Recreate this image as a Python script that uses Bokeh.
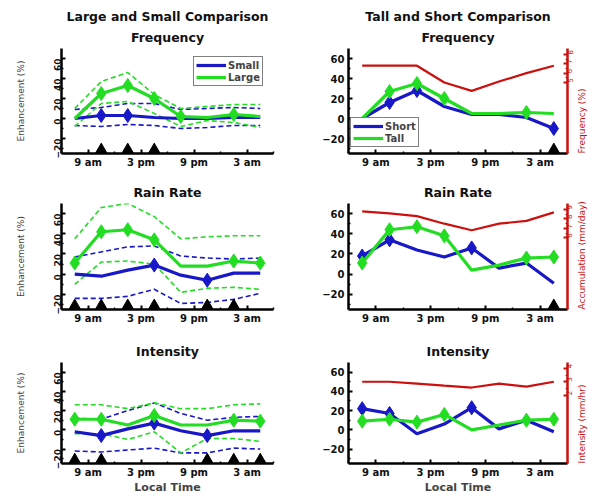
import math
from bokeh.plotting import figure
from bokeh.models import Range1d, LinearAxis, FixedTicker, Legend, LegendItem, Title
from bokeh.layouts import column, row
from bokeh.embed import file_html
from bokeh.resources import INLINE

# ---------------- data ----------------
hours = [7.5, 10.5, 13.5, 16.5, 19.5, 22.5, 25.5, 28.5]
tick_hours = [9, 15, 21, 27]
tick_labels = ["9 am", "3 pm", "9 pm", "3 am"]
y_ticks = [-20, 0, 20, 40, 60]

# Left column: Small vs Large
freq_small = [0, 3, 3, 1, 0, 0, 1, 1]
freq_small_hi = [9, 11, 15, 15, 9, 10, 11, 10]
freq_small_lo = [-7, -8, -6, -7, -10, -9, -7, -7]
freq_small_sig = [0, 1, 1, 0, 0, 0, 0, 0]
freq_large = [0, 25, 33, 20, 2, 1, 4, 2]
freq_large_hi = [10, 37, 46, 24, 10, 12, 14, 14]
freq_large_lo = [-8, 15, 17, 5, -8, -2, -4, -9]
freq_large_sig = [0, 1, 1, 1, 1, 0, 1, 0]
freq_left_tri = [0, 1, 1, 1, 0, 0, 0, 0]

rain_small = [0, -2, 4, 9, -1, -6, 1, 1]
rain_small_hi = [17, 22, 27, 28, 18, 16, 15, 16]
rain_small_lo = [-24, -24, -22, -15, -29, -28, -25, -19]
rain_small_sig = [0, 0, 0, 1, 0, 1, 0, 0]
rain_large = [11, 42, 44, 34, 8, 8, 13, 11]
rain_large_hi = [35, 66, 70, 57, 35, 37, 38, 38]
rain_large_lo = [-10, 12, 13, 10, -18, -14, -13, -15]
rain_large_sig = [1, 1, 1, 1, 0, 0, 1, 1]
rain_left_tri = [1, 1, 1, 1, 0, 1, 1, 0]

int_small = [-2, -6, 1, 7, -1, -6, -1, -1]
int_small_hi = [12, 11, 20, 28, 17, 10, 13, 14]
int_small_lo = [-22, -23, -21, -19, -24, -24, -19, -20]
int_small_sig = [0, 1, 0, 1, 0, 1, 0, 0]
int_large = [11, 11, 5, 15, 5, 5, 10, 9]
int_large_hi = [26, 26, 22, 28, 22, 22, 26, 27]
int_large_lo = [-4, -4, -10, -2, -24, -9, -9, -12]
int_large_sig = [1, 1, 0, 1, 0, 0, 1, 1]
int_left_tri = [1, 1, 0, 0, 0, 1, 1, 1]

# Right column: Short vs Tall, plus red climatology
freq_short = [0, 16, 28, 12, 4, 4, 1, -10]
freq_short_sig = [0, 1, 1, 0, 0, 0, 0, 1]
freq_tall = [0, 27, 35, 20, 5, 5, 6, 5]
freq_tall_sig = [0, 1, 1, 1, 0, 0, 1, 0]
freq_red = [6.8, 6.8, 6.8, 5.0, 4.1, 5.1, 6.0, 6.8]
freq_red_ticks = [5, 6, 7, 8]
freq_right_tri = [0, 0, 0, 0, 0, 0, 0, 1]

rain_short = [18, 34, 24, 17, 26, 6, 11, -9]
rain_short_sig = [1, 1, 0, 0, 1, 0, 0, 0]
rain_tall = [11, 44, 47, 38, 4, 9, 16, 17]
rain_tall_sig = [1, 1, 1, 1, 0, 0, 1, 1]
rain_red = [8.8, 8.6, 8.3, 7.5, 6.8, 7.5, 7.8, 8.7]
rain_red_ticks = [6, 7, 8, 9]
rain_right_tri = [0, 0, 0, 0, 0, 0, 0, 1]

int_short = [22, 17, -4, 6, 23, 1, 10, -2]
int_short_sig = [1, 1, 0, 0, 1, 0, 0, 0]
int_tall = [9, 11, 8, 16, 0, 5, 10, 11]
int_tall_sig = [1, 1, 1, 1, 0, 0, 1, 1]
int_red = [3.0, 3.0, 2.86, 2.71, 2.57, 2.86, 2.64, 3.0]
int_red_ticks = [2, 3, 4]
int_right_tri = [0, 0, 0, 0, 0, 0, 0, 0]

# ---------------- style ----------------
BLUE = "#1818c8"
GREEN = "#22dd22"
RED = "#cc1010"
FONT = "DejaVu Sans"
X0, X1 = 6, 30
Y0, Y1 = -35, 70
TRI_Y = -31


def sel(flags, vals):
    return [v for v, f in zip(vals, flags) if f]


def base(width, height, bl, br, bt, bb, titles, left_col, bottom_row):
    p = figure(width=width, height=height, x_range=Range1d(X0, X1), y_range=Range1d(Y0, Y1),
               output_backend="svg", toolbar_location=None, title=None,
               min_border_left=bl, min_border_right=br, min_border_top=bt, min_border_bottom=bb)
    for i, t in enumerate(reversed(titles)):
        p.add_layout(Title(text=t, align="center", text_font=FONT, text_font_size="12.5px",
                           text_font_style="bold", text_color="#111111",
                           standoff=8 if i == 0 else 0), "above")
    p.grid.visible = False
    p.outline_line_color = None
    p.background_fill_color = "white"
    p.border_fill_color = "white"
    for ax in (p.xaxis[0], p.yaxis[0]):
        ax.axis_line_width = 2.5
        ax.axis_line_color = "black"
        ax.major_tick_in = 4
        ax.major_tick_out = 0
        ax.minor_tick_in = 2
        ax.minor_tick_out = 0
        ax.major_tick_line_width = 2
        ax.minor_tick_line_width = 1.5
        ax.major_label_text_font = FONT
        ax.major_label_text_font_size = "10px"
        ax.major_label_text_font_style = "bold"
        ax.major_label_text_color = "#111111"
    xa = p.xaxis[0]
    xa.ticker = FixedTicker(ticks=tick_hours, minor_ticks=[6, 12, 18, 24, 30])
    xa.major_label_overrides = dict(zip(tick_hours, tick_labels))
    xa.major_label_standoff = 3
    ya = p.yaxis[0]
    ya.ticker = FixedTicker(ticks=y_ticks, minor_ticks=[-30, -10, 10, 30, 50])
    ya.major_label_standoff = 4
    if left_col:
        ya.major_label_orientation = math.pi / 2
        ya.major_label_text_font_size = "9px"
        ya.axis_label = "Enhancement (%)"
        ya.axis_label_text_font = FONT
        ya.axis_label_text_font_size = "9px"
        ya.axis_label_text_font_style = "normal"
        ya.axis_label_standoff = 22
    if bottom_row:
        xa.axis_label = "Local Time"
        xa.axis_label_text_font = FONT
        xa.axis_label_text_font_size = "11px"
        xa.axis_label_text_font_style = "bold"
        xa.axis_label_standoff = 0
    return p


def add_bounds(p, hi, lo, color):
    p.line(hours, hi, line_color=color, line_width=1.6, line_dash="5 3")
    p.line(hours, lo, line_color=color, line_width=1.6, line_dash="5 3")


def add_series(p, vals, sig, color):
    r = p.line(hours, vals, line_color=color, line_width=3.2)
    p.scatter(sel(sig, hours), sel(sig, vals), marker="diamond", size=14,
              fill_color=color, line_color=color)
    return r


def add_tri(p, flags):
    xs = sel(flags, hours)
    if xs:
        p.scatter(xs, [TRI_Y] * len(xs), marker="triangle", size=11,
                  fill_color="black", line_color="black")


def add_red(p, vals, ticks, label):
    lo_t, hi_t = ticks[0], ticks[-1]
    step = ticks[1] - ticks[0]
    span_lo_p, span_hi_p = 36, 64
    scale = (hi_t - lo_t) / (span_hi_p - span_lo_p)
    start = lo_t + (Y0 - span_lo_p) * scale
    end = lo_t + (Y1 - span_lo_p) * scale
    p.extra_y_ranges = {"red": Range1d(start, end)}
    minors = [lo_t + step * k / 2 for k in range(0, 2 * (len(ticks) - 1) + 1)]
    ax = LinearAxis(y_range_name="red", ticker=FixedTicker(ticks=ticks, minor_ticks=minors),
                    axis_label=label)
    ax.axis_line_color = RED
    ax.axis_line_width = 2.5
    ax.major_tick_line_color = RED
    ax.minor_tick_line_color = RED
    ax.major_tick_in = 4
    ax.major_tick_out = 0
    ax.minor_tick_in = 2
    ax.minor_tick_out = 0
    ax.major_tick_line_width = 2
    ax.major_label_text_color = RED
    ax.major_label_text_font = FONT
    ax.major_label_text_font_size = "7px"
    ax.major_label_orientation = math.pi / 2
    ax.major_label_standoff = 2
    ax.axis_label_text_color = RED
    ax.axis_label_text_font = FONT
    ax.axis_label_text_font_size = "9px"
    ax.axis_label_text_font_style = "normal"
    ax.axis_label_standoff = 3
    props = ax.properties()
    if "axis_label_orientation" in props and "axis_label_align" in props:
        ax.axis_label_orientation = math.pi / 2
        ax.axis_label_align = "start"
    p.add_layout(ax, "right")
    p.line(hours, vals, y_range_name="red", line_color=RED, line_width=2.2)


def legend(p, items, loc):
    lg = Legend(items=[LegendItem(label=l, renderers=[r]) for l, r in items], location=loc,
                border_line_color="black", border_line_width=1.5, padding=2, spacing=0,
                margin=0, label_text_font=FONT, label_text_font_size="10px",
                label_text_font_style="bold", glyph_width=30, glyph_height=12,
                label_height=12, label_standoff=2, background_fill_alpha=1)
    p.add_layout(lg)


LW, RW = 298, 299
LB = (61, 25)   # left column borders (left, right)
RB = (50, 30)   # right column borders (left, right)
rows_spec = [(172, 48, 19), (154, 31, 17), (170, 36, 29)]

# Row 1
h, bt, bb = rows_spec[0]
f1 = base(LW, h, LB[0], LB[1], bt, bb, ["Large and Small Comparison", "Frequency"], True, False)
add_bounds(f1, freq_small_hi, freq_small_lo, BLUE)
add_bounds(f1, freq_large_hi, freq_large_lo, GREEN)
rs = add_series(f1, freq_small, freq_small_sig, BLUE)
rl = add_series(f1, freq_large, freq_large_sig, GREEN)
add_tri(f1, freq_left_tri)
legend(f1, [("Small", rs), ("Large", rl)], (132, 67))

f2 = base(RW, h, RB[0], RB[1], bt, bb, ["Tall and Short Comparison", "Frequency"], False, False)
add_red(f2, freq_red, freq_red_ticks, "Frequency (%)")
r_short = add_series(f2, freq_short, freq_short_sig, BLUE)
r_tall = add_series(f2, freq_tall, freq_tall_sig, GREEN)
add_tri(f2, freq_right_tri)
legend(f2, [("Short", r_short), ("Tall", r_tall)], (2, 6))

# Row 2
h, bt, bb = rows_spec[1]
f3 = base(LW, h, LB[0], LB[1], bt, bb, ["Rain Rate"], True, False)
add_bounds(f3, rain_small_hi, rain_small_lo, BLUE)
add_bounds(f3, rain_large_hi, rain_large_lo, GREEN)
add_series(f3, rain_small, rain_small_sig, BLUE)
add_series(f3, rain_large, rain_large_sig, GREEN)
add_tri(f3, rain_left_tri)

f4 = base(RW, h, RB[0], RB[1], bt, bb, ["Rain Rate"], False, False)
add_red(f4, rain_red, rain_red_ticks, "Accumulation (mm/day)")
add_series(f4, rain_short, rain_short_sig, BLUE)
add_series(f4, rain_tall, rain_tall_sig, GREEN)
add_tri(f4, rain_right_tri)

# Row 3
h, bt, bb = rows_spec[2]
f5 = base(LW, h, LB[0], LB[1], bt, bb, ["Intensity"], True, True)
add_bounds(f5, int_small_hi, int_small_lo, BLUE)
add_bounds(f5, int_large_hi, int_large_lo, GREEN)
add_series(f5, int_small, int_small_sig, BLUE)
add_series(f5, int_large, int_large_sig, GREEN)
add_tri(f5, int_left_tri)

f6 = base(RW, h, RB[0], RB[1], bt, bb, ["Intensity"], False, True)
add_red(f6, int_red, int_red_ticks, "Intensity (mm/hr)")
add_series(f6, int_short, int_short_sig, BLUE)
add_series(f6, int_tall, int_tall_sig, GREEN)
add_tri(f6, int_right_tri)

layout = column(row(f1, f2), row(f3, f4), row(f5, f6))
open("out.html", "w").write(file_html(layout, INLINE))
